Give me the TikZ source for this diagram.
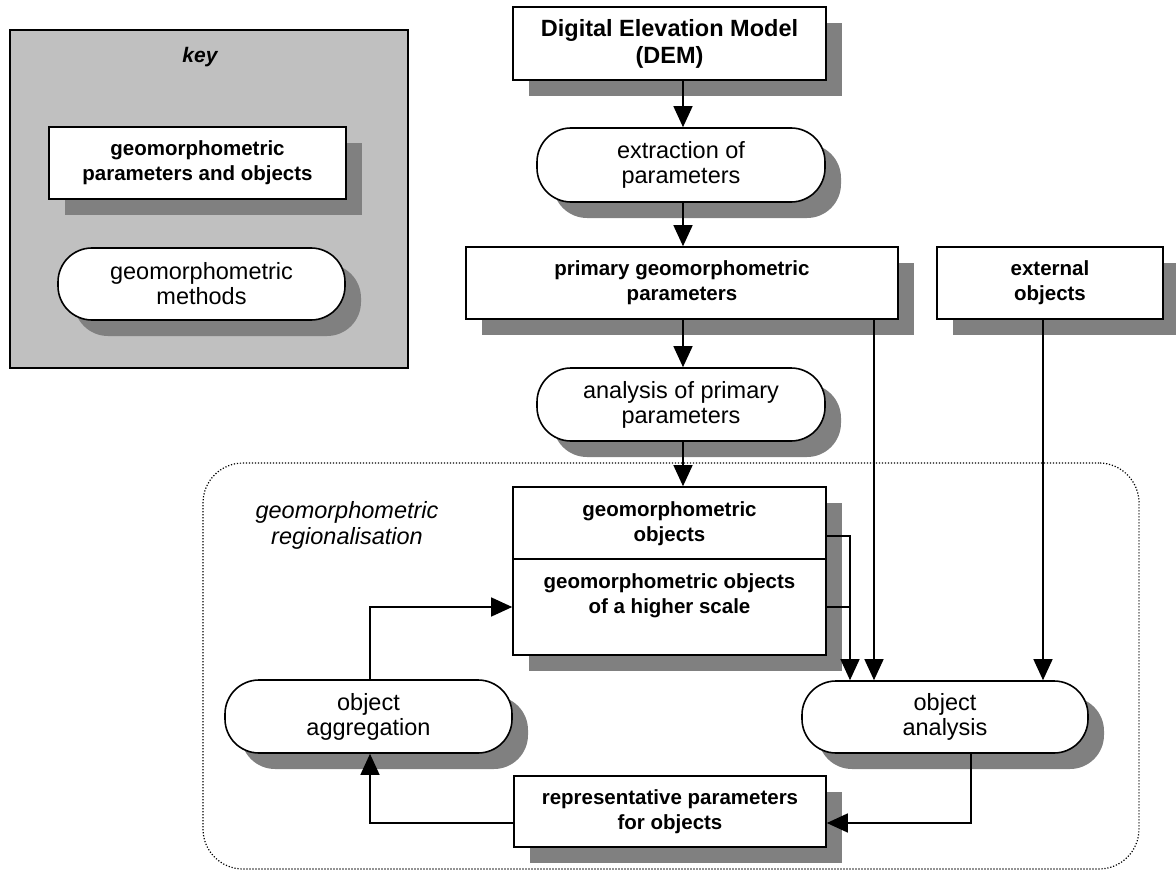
\documentclass[tikz,border=0pt]{standalone}
\usepackage{fontspec}
\setmainfont{Liberation Sans}
\usetikzlibrary{arrows.meta,shadows}
\definecolor{shgray}{HTML}{808080}
\definecolor{keygray}{HTML}{C0C0C0}
\newcommand\myboldfont{\fontsize{20.5}{25}\selectfont\bfseries}
\newcommand\mynormfont{\fontsize{23.5}{25}\selectfont}
\newcommand\mydemfont{\fontsize{23.5}{27}\selectfont\bfseries}
\newcommand\myitfont{\fontsize{23.5}{26}\selectfont\itshape}
\newcommand\mykeyfont{\fontsize{21}{25}\selectfont\bfseries\itshape}
\begin{document}
\begin{tikzpicture}[x=1pt,y=-1pt,
  shad/.style={drop shadow={shadow xshift=16pt,shadow yshift=-16pt,opacity=1,fill=shgray}},
  databox/.style={draw, line width=1.6pt, fill=white, inner sep=0pt, align=center, font=\myboldfont, shad},
  method/.style={draw, line width=1.6pt, fill=white, rounded corners=34pt, inner sep=0pt, align=center, font=\mynormfont, shad},
  plain/.style={inner sep=0pt, align=center},
  conn/.style={line width=1.3pt},
  arr/.style={line width=1.3pt, -{Triangle[length=21pt,width=19pt]}}]
\useasboundingbox (0,0) rectangle (1176,872);

% key
\node[draw, fill=keygray, line width=1.3pt, minimum width=398pt, minimum height=338pt] (keybox) at (209,199) {};
\node[plain, font=\mykeyfont] (keylabel) at (200,57) {key};
\node[databox, minimum width=297pt, minimum height=72pt] (keydata) at (197.5,163) {geomorphometric\\parameters and objects};
\node[method, minimum width=287pt, minimum height=72pt] (keymethod) at (201.5,284) {geomorphometric\\methods};

% region
\node[draw, line width=1.2pt, dash pattern=on 1.2pt off 1.8pt, rounded corners=40pt, minimum width=936pt, minimum height=406pt] (region) at (671,666) {};
\node[plain, font=\myitfont] (reglabel) at (347,525) {geomorphometric\\regionalisation};

% main nodes
\node[databox, minimum width=313pt, minimum height=73pt, font=\mydemfont] (dem) at (669.5,43.5) {Digital Elevation Model\\(DEM)};
\node[method, minimum width=288pt, minimum height=74pt] (extract) at (681,165) {extraction of\\parameters};
\node[databox, minimum width=432pt, minimum height=72pt] (prim) at (682,283) {primary geomorphometric\\parameters};
\node[databox, minimum width=226pt, minimum height=72pt] (ext) at (1050,283) {external\\objects};
\node[method, minimum width=288pt, minimum height=73pt] (anal) at (681,404.5) {analysis of primary\\parameters};
\node[databox, minimum width=313pt, minimum height=168pt] (geo) at (669.5,571) {};
\coordinate (dv) at (0,559);
\draw[line width=1.6pt] (geo.west |- dv) -- (geo.east |- dv);
\node[plain, font=\myboldfont] (geoup) at (669.5,524) {geomorphometric\\objects};
\node[plain, font=\myboldfont] (geolow) at (669.5,596) {geomorphometric objects\\of a higher scale};
\node[method, minimum width=287pt, minimum height=73pt] (agg) at (368.5,716.5) {object\\aggregation};
\node[method, minimum width=286pt, minimum height=72pt] (oan) at (945,717) {object\\analysis};
\node[databox, minimum width=312pt, minimum height=71pt] (rep) at (670,811.5) {representative parameters\\for objects};

% helper coordinates
\coordinate (cx) at (683,0);
\coordinate (px) at (874,0);
\coordinate (ex) at (1043,0);
\coordinate (gx) at (850,0);
\coordinate (ax) at (971,0);
\coordinate (lx) at (370,0);
\coordinate (uy) at (0,536);
\coordinate (ly) at (0,607);
\coordinate (ry) at (0,823);

% connectors
\draw[arr] (dem.south -| cx) -- (extract.north -| cx);
\draw[arr] (extract.south -| cx) -- (prim.north -| cx);
\draw[arr] (prim.south -| cx) -- (anal.north -| cx);
\draw[arr] (anal.south -| cx) -- (geo.north -| cx);
\draw[arr] (prim.south -| px) -- (oan.north -| px);
\draw[arr] (ext.south -| ex) -- (oan.north -| ex);
\draw[arr] (geo.east |- uy) -| (oan.north -| gx);
\draw[conn] (geo.east |- ly) -- (gx |- ly);
\draw[arr] (oan.south -| ax) |- (rep.east |- ry);
\draw[arr] (rep.west |- ry) -| (agg.south -| lx);
\draw[arr] (agg.north -| lx) |- (geo.west |- ly);
\end{tikzpicture}
\end{document}
